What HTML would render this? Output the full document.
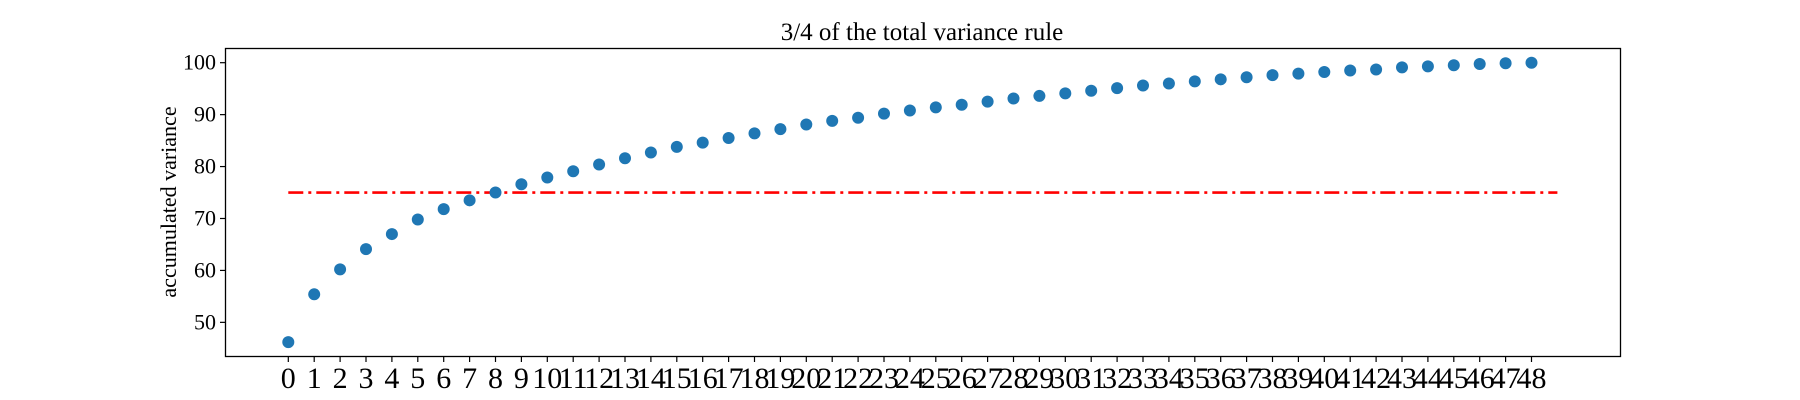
<!DOCTYPE html>
<html><head><meta charset="utf-8"><style>
html,body{margin:0;padding:0;background:#fff;}
svg{display:block;font-family:"Liberation Serif",serif;}
</style></head><body>
<svg id="chart" width="1800" height="400" xmlns="http://www.w3.org/2000/svg">
<text x="922" y="40" font-size="25" text-anchor="middle">3/4 of the total variance rule</text>
<text transform="translate(176,202) rotate(-90)" font-size="22" text-anchor="middle">accumulated variance</text>
<g id="marks"></g>
<rect x="225.5" y="48.5" width="1395" height="308" fill="none" stroke="#000" stroke-width="1.3"/>
</svg>
<script>
const categories = [];
for (let i = 0; i <= 48; i++) categories.push(i);
const variance = [46.2,55.4,60.2,64.1,67.0,69.8,71.8,73.5,75.0,76.6,77.9,79.1,80.4,81.6,82.7,83.8,84.6,85.5,86.4,87.2,88.1,88.8,89.4,90.2,90.8,91.4,91.9,92.5,93.1,93.6,94.1,94.6,95.1,95.6,96.0,96.4,96.8,97.2,97.6,97.9,98.2,98.5,98.7,99.1,99.3,99.5,99.75,99.9,100.0];
const yTicks = [50,60,70,80,90,100];
const threshold = 75;
const thresholdRange = [0,49];

const NS = "http://www.w3.org/2000/svg";
const xS = v => 288.3 + v*25.9;
const yS = v => 62.7 + (100 - v)*5.193;
const g = document.getElementById('marks');
function mk(tag, attrs){const e=document.createElementNS(NS,tag);for(const k in attrs)e.setAttribute(k,attrs[k]);g.appendChild(e);return e;}

yTicks.forEach(t=>{
  const l = mk('line',{x1:220,x2:225.5,y1:yS(t),y2:yS(t),stroke:'#000','stroke-width':1.2});
  
  
  const tx = mk('text',{x:216,y:yS(t)+7,'font-size':22,'text-anchor':'end'});
  tx.textContent = t;
  
  
});
categories.forEach(c=>{
  const l = mk('line',{x1:xS(c),x2:xS(c),y1:356.5,y2:362,stroke:'#000','stroke-width':1.2});
  
  
  const tx = mk('text',{x:xS(c),y:388,'font-size':30,'text-anchor':'middle'});
  tx.textContent = c;
  
  
});
const th = mk('line',{x1:xS(thresholdRange[0]),x2:xS(thresholdRange[1]),y1:yS(threshold),y2:yS(threshold),stroke:'#ff0000','stroke-width':2.6,'stroke-dasharray':'15 5 3 5'});


variance.forEach((v,i)=>{
  const c = mk('circle',{cx:xS(categories[i]),cy:yS(v),r:6,fill:'#1f77b4'});
  
  
});
</script>
</body></html>
